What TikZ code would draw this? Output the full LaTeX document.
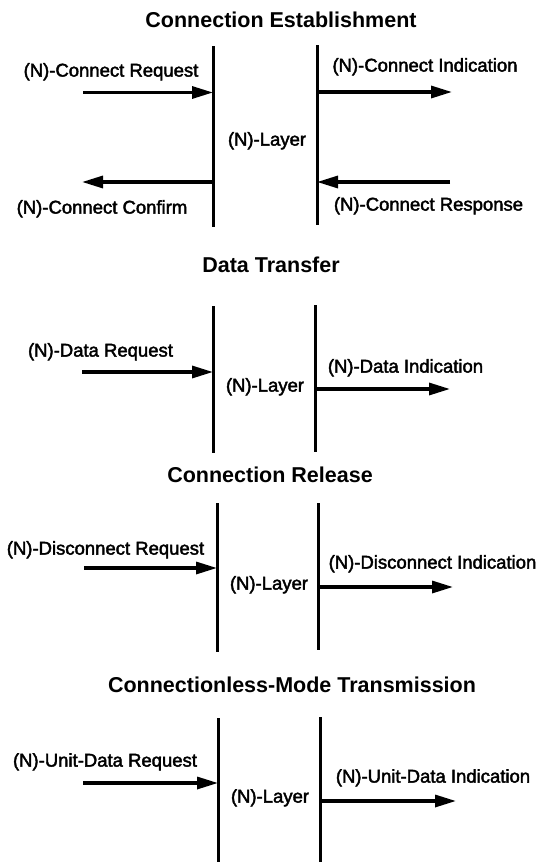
\documentclass[tikz,border=0pt]{standalone}
\usepackage{fontspec}
\setmainfont{Liberation Sans}
\newfontfamily\labfont[FakeBold=2.2]{Liberation Sans}
\usetikzlibrary{arrows.meta}
\begin{document}
\begin{tikzpicture}[x=1pt,y=-1pt,
  lab/.style={font=\labfont\fontsize{18.5}{20}\selectfont, inner sep=0pt, anchor=base},
  ttl/.style={font=\bfseries\fontsize{21.5}{24}\selectfont, inner sep=0pt, anchor=base},
  layerline/.style={line width=3pt},
  sig/.style={line width=3.2pt, -{Triangle[length=21pt,width=12pt]}},
]
\useasboundingbox (0,0) rectangle (543,862);

% ---------- Section 1: Connection Establishment ----------
\node[ttl] (t1) at (281,27.7) {Connection Establishment};
\coordinate (a1t) at (213,46);  \coordinate (a1b) at (213,227);
\coordinate (b1t) at (317,45);  \coordinate (b1b) at (317,225);
\draw[layerline] (a1t) -- (a1b);
\draw[layerline] (b1t) -- (b1b);
\node[lab] (rq1) at (111,76.6) {(N)-Connect Request};
\coordinate (rq1s) at (83,92.5); \coordinate (rq1e) at (213,92.5);
\draw[sig] (rq1s) -- (rq1e);
\node[lab] (in1) at (425,71.6) {(N)-Connect Indication};
\coordinate (in1s) at (317,92); \coordinate (in1e) at (452,92);
\draw[sig] (in1s) -- (in1e);
\node[lab] (ly1) at (267,145.6) {(N)-Layer};
\coordinate (cf1s) at (213,182); \coordinate (cf1e) at (82,182);
\draw[sig] (cf1s) -- (cf1e);
\node[lab] (cf1) at (102,213.6) {(N)-Connect Confirm};
\coordinate (rs1s) at (450,182); \coordinate (rs1e) at (317,182);
\draw[sig] (rs1s) -- (rs1e);
\node[lab] (rs1) at (428.5,210.6) {(N)-Connect Response};

% ---------- Section 2: Data Transfer ----------
\node[ttl] (t2) at (271,272.7) {Data Transfer};
\coordinate (a2t) at (213,306);  \coordinate (a2b) at (213,453);
\coordinate (b2t) at (315,305);  \coordinate (b2b) at (315,452);
\draw[layerline] (a2t) -- (a2b);
\draw[layerline] (b2t) -- (b2b);
\node[lab] (rq2) at (100.5,356.6) {(N)-Data Request};
\coordinate (rq2s) at (82,372); \coordinate (rq2e) at (213,372);
\draw[sig] (rq2s) -- (rq2e);
\node[lab] (ly2) at (265,391.6) {(N)-Layer};
\node[lab] (in2) at (405.5,372.6) {(N)-Data Indication};
\coordinate (in2s) at (315,389); \coordinate (in2e) at (450,389);
\draw[sig] (in2s) -- (in2e);

% ---------- Section 3: Connection Release ----------
\node[ttl] (t3) at (270,482.7) {Connection Release};
\coordinate (a3t) at (217,503);  \coordinate (a3b) at (217,652);
\coordinate (b3t) at (318,503);  \coordinate (b3b) at (318,650);
\draw[layerline] (a3t) -- (a3b);
\draw[layerline] (b3t) -- (b3b);
\node[lab] (rq3) at (105.5,554.6) {(N)-Disconnect Request};
\coordinate (rq3s) at (84,568); \coordinate (rq3e) at (217,568);
\draw[sig] (rq3s) -- (rq3e);
\node[lab] (ly3) at (269,589.6) {(N)-Layer};
\node[lab] (in3) at (432.5,568.6) {(N)-Disconnect Indication};
\coordinate (in3s) at (318,587); \coordinate (in3e) at (453,587);
\draw[sig] (in3s) -- (in3e);

% ---------- Section 4: Connectionless-Mode Transmission ----------
\node[ttl] (t4) at (292,692.7) {Connectionless-Mode Transmission};
\coordinate (a4t) at (218,718);  \coordinate (a4b) at (218,862);
\coordinate (b4t) at (320,717);  \coordinate (b4b) at (320,862);
\draw[layerline] (a4t) -- (a4b);
\draw[layerline] (b4t) -- (b4b);
\node[lab] (rq4) at (105,766.6) {(N)-Unit-Data Request};
\coordinate (rq4s) at (83,783); \coordinate (rq4e) at (218,783);
\draw[sig] (rq4s) -- (rq4e);
\node[lab] (ly4) at (270,802.6) {(N)-Layer};
\node[lab] (in4) at (433,782.6) {(N)-Unit-Data Indication};
\coordinate (in4s) at (320,801); \coordinate (in4e) at (456,801);
\draw[sig] (in4s) -- (in4e);
\end{tikzpicture}
\end{document}
